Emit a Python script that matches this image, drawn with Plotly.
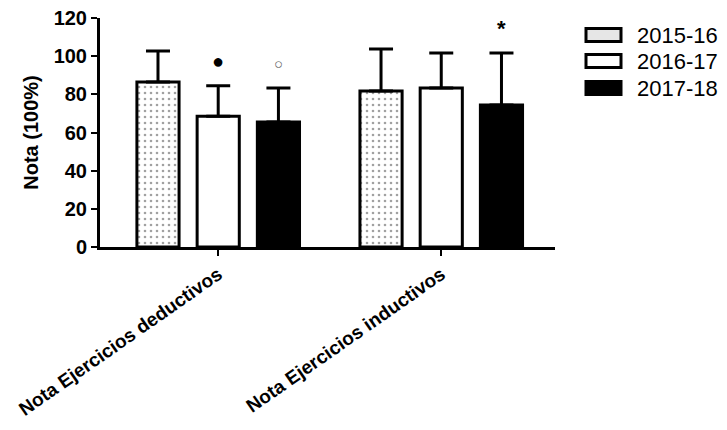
import plotly.graph_objects as go

categories = ["Nota Ejercicios deductivos", "Nota Ejercicios inductivos"]
series_names = ["2015-16", "2016-17", "2017-18"]
means_1516 = [86.5, 81.8]
sd_1516 = [16.2, 22.0]
means_1617 = [68.5, 83.3]
sd_1617 = [16.0, 18.4]
means_1718 = [65.5, 74.4]
sd_1718 = [17.8, 27.3]
sig_1617 = ["●", ""]
sig_1718 = ["○", "*"]
y_ticks = [0, 20, 40, 60, 80, 100, 120]

FONT = "Liberation Sans, Arial, sans-serif"
means = [means_1516, means_1617, means_1718]
sds = [sd_1516, sd_1617, sd_1718]
sigs = [["", ""], sig_1617, sig_1718]
fills = ["white", "white", "black"]

# page offset (body margin) compensation
OFF = 8
L, T, PW, PH = 100 - OFF, 18 - OFF, 455, 229

fig = go.Figure()
for i, name in enumerate(series_names):
    pattern = dict(shape=".", size=6, solidity=0.15, fgcolor="#444", bgcolor="white") if i == 0 else dict(shape="")
    fig.add_trace(go.Bar(
        x=categories, y=means[i], name=name,
        marker=dict(color=fills[i], line=dict(color="black", width=3), pattern=pattern),
        error_y=dict(type="data", array=sds[i], arrayminus=[0] * len(sds[i]), symmetric=False,
                     color="black", thickness=3, width=12),
        showlegend=False,
    ))

gap = 0.19
slot = (1 - gap) / 3
annotations = []
for i in range(3):
    for j in range(len(categories)):
        s = sigs[i][j]
        if not s:
            continue
        xpos = j + (i - 1) * slot
        ypos = means[i][j] + sds[i][j] + 13
        color = "#666" if s == "○" else "black"
        size = {"○": 15, "*": 22, "●": 20}[s]
        annotations.append(dict(x=xpos, y=ypos, xref="x", yref="y", text=s, showarrow=False,
                                font=dict(size=size, color=color, family=FONT, weight="bold")))

# custom legend
shapes = []
leg_y = [35, 61, 88]
for i, name in enumerate(series_names):
    yc = 1 - (leg_y[i] - 18) / PH
    h = 6.5 / PH
    fc = "#e6e6e6" if i == 0 else fills[i]
    shapes.append(dict(type="rect", xref="paper", yref="paper",
                       x0=(586 - 100) / PW, x1=(621 - 100) / PW, y0=yc - h, y1=yc + h,
                       fillcolor=fc, line=dict(color="black", width=3)))
    annotations.append(dict(x=(635 - 100) / PW, y=yc, xref="paper", yref="paper", text=name,
                            showarrow=False, xanchor="left", yanchor="middle",
                            font=dict(size=22, color="black", family=FONT)))

fig.update_layout(
    width=727, height=430,
    margin=dict(l=L, r=727 - L - PW, t=T, b=430 - T - PH),
    paper_bgcolor="white", plot_bgcolor="white",
    barmode="group", bargap=gap, bargroupgap=0.3,
    font=dict(family=FONT, color="black"),
    shapes=shapes, annotations=annotations,
    xaxis=dict(range=[-0.53, 1.51], showline=True, linecolor="black", linewidth=3,
               ticks="outside", ticklen=6, tickwidth=2, tickcolor="black",
               tickangle=-35, tickfont=dict(size=19, family=FONT, weight="bold"),
               showgrid=False, automargin=False, ticklabeloverflow="allow"),
    yaxis=dict(range=[0, 120], tickvals=y_ticks, showline=True, linecolor="black", linewidth=3,
               ticks="outside", ticklen=6, tickwidth=2, tickcolor="black",
               tickfont=dict(size=20, family=FONT, weight="bold"),
               title=dict(text="Nota (100%)", font=dict(size=20, family=FONT, weight="bold"), standoff=10),
               showgrid=False, zeroline=False, automargin=False, ticklabeloverflow="allow"),
)

fig.write_html("out.html")
